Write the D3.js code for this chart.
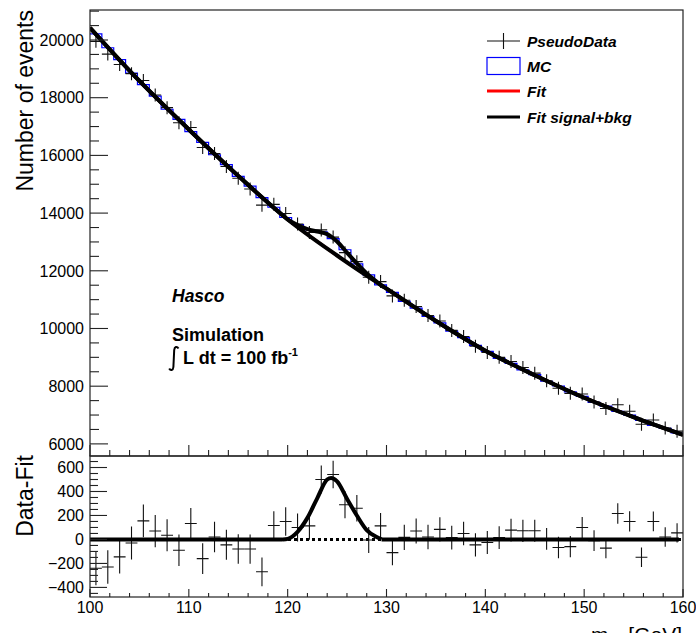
<!DOCTYPE html>
<html>
<head>
<meta charset="utf-8">
<script src="https://cdn.jsdelivr.net/npm/d3@7"></script>
<style>
  html, body { margin: 0; padding: 0; background: #fff; }
  svg { display: block; font-family: "Liberation Sans", Arial, Helvetica, sans-serif; }
</style>
</head>
<body>
<svg id="chart" width="696" height="633"></svg>
<script>
// ---------------- data ----------------
const massBins = [100.6,101.8,103.0,104.2,105.4,106.6,107.8,109.0,110.2,111.4,112.6,113.8,115.0,116.2,117.4,118.6,119.8,121.0,122.2,123.4,124.6,125.8,127.0,128.2,129.4,130.6,131.8,133.0,134.2,135.4,136.6,137.8,139.0,140.2,141.4,142.6,143.8,145.0,146.2,147.4,148.6,149.8,151.0,152.2,153.4,154.6,155.8,157.0,158.2,159.4];
const binWidth = 1.2;
const pseudoData = [19954,19511,19152,18834,18595,18095,17655,17134,16965,16273,16063,15617,15210,14833,14276,14303,13987,13620,13328,13417,13168,12629,12317,11776,11625,11129,10980,10764,10452,10258,9933,9720,9382,9169,8999,8856,8649,8452,8191,7929,7751,7730,7451,7226,7355,7131,6680,6828,6551,6442];
const mcValues = [20214,19731,19322,18849,18450,18055,17600,17249,16822,16448,16023,15682,15275,14938,14536,14202,13847,13604,13418,13352,13116,12729,12242,11856,11512,11254,10943,10704,10417,10194,9908,9685,9412,9204,8964,8793,8567,8400,8171,8006,7801,7645,7441,7308,7128,6996,6818,6638,6541,6377];
const residuals = [-240,-230,-145,-30,155,70,35,-90,133,-160,20,-45,-80,-80,-270,116,150,100,113,500,542,290,260,-5,113,-110,17,70,20,84,15,50,-45,-25,15,78,72,72,5,-67,-60,100,-10,-72,217,150,-148,150,20,55];
// background-only fit
const fitMass = [100,105,110,115,120,125,130,135,140,145,150,155,160];
const fitBkg  = [20425,18580,16900,15290,13780,12530,11380,10260,9230,8380,7600,6930,6316];
// signal part of the fit (peak region)
const sigMass     = [119.5,120,121,122,123,124,124.4,125,126,127,128,129,129.5];
const sigResidual = [0,5,64,180,345,500,513,485,340,200,78,20,0];
const sigPlusBkg  = [13925,13785,13584,13446,13361,13271,13187,13015,12631,12257,11905,11621,11490];
// axis ticks
const topYTicks = [6000,8000,10000,12000,14000,16000,18000,20000];
const botYTicks = [-400,-200,0,200,400,600];
const xTicks = [100,110,120,130,140,150,160];
const legendItems = ["PseudoData","MC","Fit","Fit signal+bkg"];

// ---------------- layout ----------------
const svg = d3.select("#chart");
const L = 90, R = 683, T = 10, MID = 456, B = 597;
const x = d3.scaleLinear().domain([100,160]).range([L,R]);
const yTop = d3.scaleLinear().domain([5580,21040]).range([MID,T]);
const yBot = d3.scaleLinear().domain([-480,696]).range([B,MID]);
const axisColor = "#222";

svg.append("rect").attr("width",696).attr("height",633).attr("fill","#fff");

const defs = svg.append("defs");
defs.append("clipPath").attr("id","clipTop").append("rect").attr("x",L).attr("y",T).attr("width",R-L).attr("height",MID-T);
defs.append("clipPath").attr("id","clipBot").append("rect").attr("x",L).attr("y",MID).attr("width",R-L).attr("height",B-MID);

// ---------------- top panel ----------------
const gTop = svg.append("g").attr("clip-path","url(#clipTop)");

// MC histogram (blue steps)
const mcPts = massBins.map((c,i)=>[c-binWidth/2, mcValues[i]]);
mcPts.push([massBins[massBins.length-1]+binWidth/2, mcValues[mcValues.length-1]]);
gTop.append("path")
  .attr("d", d3.line().x(d=>x(d[0])).y(d=>yTop(d[1])).curve(d3.curveStepAfter)(mcPts))
  .attr("fill","none").attr("stroke","#0000ff").attr("stroke-width",1.2);

// pseudo-data crosses
const markerHalf = 6.5;
gTop.selectAll("path.data").data(massBins).join("path")
  .attr("class","data")
  .attr("d",(c,i)=>{
    const v = pseudoData[i], e = Math.sqrt(v);
    const yc = yTop(v);
    const dy = Math.max(yTop(v-e)-yc, markerHalf);
    return `M${x(c-binWidth/2)},${yc}H${x(c+binWidth/2)}M${x(c)},${yc-dy}V${yc+dy}`;
  })
  .attr("fill","none").attr("stroke","#111").attr("stroke-width",1.1);

// fit curves
const lineTop = d3.line().x(d=>x(d[0])).y(d=>yTop(d[1])).curve(d3.curveMonotoneX);
const bkgPts = fitMass.map((m,i)=>[m,fitBkg[i]]);
gTop.append("path").attr("d",lineTop(bkgPts)).attr("fill","none").attr("stroke","#ff0000").attr("stroke-width",3);
gTop.append("path").attr("d",lineTop(bkgPts)).attr("fill","none").attr("stroke","#000").attr("stroke-width",4);
const sbPts = bkgPts.filter(d=>d[0]<sigMass[0])
  .concat(sigMass.map((m,i)=>[m,sigPlusBkg[i]]))
  .concat(bkgPts.filter(d=>d[0]>sigMass[sigMass.length-1]));
gTop.append("path").attr("d",lineTop(sbPts)).attr("fill","none").attr("stroke","#000").attr("stroke-width",4);

// ---------------- bottom panel ----------------
const gBot = svg.append("g").attr("clip-path","url(#clipBot)");
const lineBot = d3.line().x(d=>x(d[0])).y(d=>yBot(d[1])).curve(d3.curveMonotoneX);
gBot.append("path").attr("d",lineBot([[100,0],[160,0]]))
  .attr("fill","none").attr("stroke","#000").attr("stroke-width",3).attr("stroke-dasharray","3,3");

gBot.selectAll("path.res").data(massBins).join("path")
  .attr("class","res")
  .attr("d",(c,i)=>{
    const v = residuals[i], e = Math.sqrt(pseudoData[i]);
    const yc = yBot(v);
    const dy = Math.max(yBot(v-e)-yc, markerHalf);
    return `M${x(c-binWidth/2)},${yc}H${x(c+binWidth/2)}M${x(c)},${yc-dy}V${yc+dy}`;
  })
  .attr("fill","none").attr("stroke","#111").attr("stroke-width",1.1);

gBot.append("path").attr("d",lineBot([[100,0],[sigMass[0],0]])).attr("fill","none").attr("stroke","#000").attr("stroke-width",4);
gBot.append("path").attr("d",lineBot([[sigMass[sigMass.length-1],0],[159.6,0]])).attr("fill","none").attr("stroke","#000").attr("stroke-width",4);
gBot.append("path").attr("d",lineBot(sigMass.map((m,i)=>[m,sigResidual[i]]))).attr("fill","none").attr("stroke","#000").attr("stroke-width",4);

// ---------------- frames & axes ----------------
const gAx = svg.append("g").attr("stroke",axisColor).attr("fill","none");
gAx.append("rect").attr("x",L).attr("y",T).attr("width",R-L).attr("height",MID-T).attr("stroke-width",1.2);
gAx.append("rect").attr("x",L).attr("y",MID).attr("width",R-L).attr("height",B-MID).attr("stroke-width",1.2);

// top y ticks
const topMinor = d3.range(6000,21040,500);
topMinor.forEach(v=>{
  const major = topYTicks.includes(v);
  gAx.append("line").attr("x1",L).attr("x2",L+(major?18:9)).attr("y1",yTop(v)).attr("y2",yTop(v)).attr("stroke-width",1.1);
});
// bottom y ticks
const botMinor = d3.range(-450,696,50);
botMinor.forEach(v=>{
  const major = botYTicks.includes(v);
  gAx.append("line").attr("x1",L).attr("x2",L+(major?17:8)).attr("y1",yBot(v)).attr("y2",yBot(v)).attr("stroke-width",1.1);
});
// x ticks
const xMinor = d3.range(100,160.1,2);
xMinor.forEach(v=>{
  const major = xTicks.includes(v);
  gAx.append("line").attr("x1",x(v)).attr("x2",x(v)).attr("y1",MID).attr("y2",MID-(major?11:6)).attr("stroke-width",1.1);
  gAx.append("line").attr("x1",x(v)).attr("x2",x(v)).attr("y1",B).attr("y2",B-(major?8:4)).attr("stroke-width",1.1);
});

// tick labels
const fmtMinus = v => (v<0 ? "\u2212"+Math.abs(v) : String(v));
svg.append("g").selectAll("text").data(topYTicks).join("text")
  .attr("x",84).attr("y",d=>yTop(d)).attr("dy","0.36em").attr("text-anchor","end")
  .attr("font-size",16).attr("fill","#000").text(d=>d);
svg.append("g").selectAll("text").data(botYTicks).join("text")
  .attr("x",84).attr("y",d=>yBot(d)).attr("dy","0.36em").attr("text-anchor","end")
  .attr("font-size",16).attr("fill","#000").text(fmtMinus);
svg.append("g").selectAll("text").data(xTicks).join("text")
  .attr("x",d=>x(d)).attr("y",613).attr("text-anchor","middle")
  .attr("font-size",16).attr("fill","#000").text(d=>d);

// axis titles
svg.append("text").attr("transform","translate(33,10) rotate(-90)").attr("text-anchor","end")
  .attr("font-size",23).attr("fill","#000").text("Number of events");
svg.append("text").attr("transform","translate(33,455) rotate(-90)").attr("text-anchor","end")
  .attr("font-size",23).attr("fill","#000").text("Data-Fit");
const xt = svg.append("text").attr("x",682).attr("y",642).attr("text-anchor","end").attr("font-size",21).attr("fill","#000");
xt.append("tspan").text("m");
xt.append("tspan").attr("font-size",14).attr("dy",5).text("\u03b3\u03b3");
xt.append("tspan").attr("dy",-5).text(" [GeV]");

// ---------------- legend ----------------
const lg = svg.append("g");
const lgX1 = 487, lgX2 = 520, lgTx = 527;
const rowY = [41, 66, 91, 117];
lg.append("path").attr("d",`M${lgX1},${rowY[0]}H${lgX2}M${(lgX1+lgX2)/2},${rowY[0]-8}V${rowY[0]+8}`)
  .attr("stroke","#111").attr("stroke-width",1.1).attr("fill","none");
lg.append("rect").attr("x",lgX1).attr("y",rowY[1]-8.5).attr("width",lgX2-lgX1).attr("height",17)
  .attr("fill","none").attr("stroke","#0000ff").attr("stroke-width",1.2);
lg.append("line").attr("x1",lgX1).attr("x2",lgX2).attr("y1",rowY[2]).attr("y2",rowY[2]).attr("stroke","#ff0000").attr("stroke-width",3);
lg.append("line").attr("x1",lgX1).attr("x2",lgX2).attr("y1",rowY[3]).attr("y2",rowY[3]).attr("stroke","#000").attr("stroke-width",3);
lg.selectAll("text").data(legendItems).join("text")
  .attr("x",lgTx).attr("y",(d,i)=>rowY[i]).attr("dy","0.36em")
  .attr("font-size",15.5).attr("font-weight","bold").attr("font-style","italic").attr("fill","#000")
  .text(d=>d);

// ---------------- annotations ----------------
svg.append("text").attr("x",172).attr("y",302).attr("font-size",17.5).attr("font-weight","bold").attr("font-style","italic").attr("fill","#000").text("Hasco");
svg.append("text").attr("x",172).attr("y",341).attr("font-size",18).attr("font-weight","bold").attr("fill","#000").text("Simulation");
// integral sign drawn as a stroke
svg.append("path")
  .attr("d","M178.5,348.5 C177,346 174.5,346.5 174.2,350 L173.4,367 C173.1,370.5 170.5,371 169.2,368.5")
  .attr("fill","none").attr("stroke","#000").attr("stroke-width",2);
const lum = svg.append("text").attr("x",183).attr("y",364).attr("font-size",18).attr("font-weight","bold").attr("fill","#000");
lum.append("tspan").text("L dt = 100 fb");
lum.append("tspan").attr("font-size",11).attr("dy",-8).text("-1");
</script>
</body>
</html>
